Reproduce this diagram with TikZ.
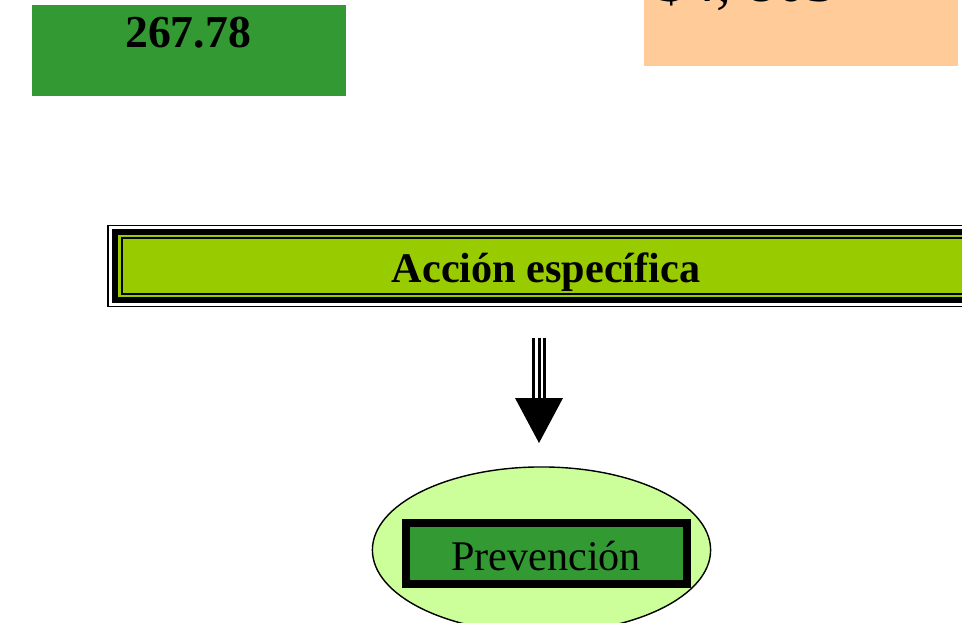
\documentclass[tikz,border=0pt]{standalone}
\usepackage{fontspec}
\setmainfont{Liberation Serif}
\usetikzlibrary{shapes.geometric}
\definecolor{verde}{HTML}{339933}
\definecolor{lima}{HTML}{99CC00}
\definecolor{palido}{HTML}{CCFF99}
\definecolor{durazno}{HTML}{FFCC99}
\tikzset{>=latex}

\begin{document}
\begin{tikzpicture}[x=.01cm, y=-.01cm,
    capa/.style={rectangle, inner sep=0, outer sep=0},
    texto/.style={font=\fontsize{12}{14}\selectfont, inner sep=0}]
    \useasboundingbox(0, 0)rectangle(962, 622);
    \clip(0, 0)rectangle(962, 622);
    % cajas de arriba
    \fill[verde](32, 5)rectangle(346, 96);
    \node[texto, font=\fontsize{13}{15}\selectfont\bfseries](monto)at(188, 33){267.78};
    \fill[durazno](644, -20)rectangle(958, 66);
    \node[texto, font=\fontsize{17}{20}\selectfont, anchor=base west](saldo)at(656, 1.5){\$4, 803};
    % accion especifica, marco triple
    \node[capa, draw, fill=white, line width=.45pt, minimum width=8.76cm, minimum height=.81cm](accion)at(546, 266){};
    \node[capa, fill=black, minimum width=8.68cm, minimum height=.74cm]at(accion.center){};
    \node[capa, fill=lima, minimum width=8.56cm, minimum height=.62cm]at(accion.center){};
    \node[capa, draw, fill=lima, line width=.6pt, minimum width=8.48cm, minimum height=.555cm]at(accion.center){};
    \node[texto, font=\fontsize{12}{14}\selectfont\bfseries, anchor=base]at(546, 283){Acción específica};
    % prevencion
    \node[ellipse, draw, fill=palido, line width=.4pt, minimum width=3.38cm, minimum height=1.66cm](elipse)at(541.5, 550){};
    \node[capa, draw, fill=verde, line width=.08cm, minimum width=2.81cm, minimum height=.6cm](prev)at(546.5, 553.5){};
    \node[texto, anchor=base]at(546, 570){Prevención};
    % flecha
    \coordinate(ini)at(539, 338);
    \coordinate(base)at(539, 398);
    \coordinate(punta)at(539, 443);
    \foreach \d in {-5.5, 0, 5.5}
        \draw[line width=.03cm]([xshift=\d*.01cm]ini)--([xshift=\d*.01cm]base);
    \fill([xshift=-.24cm]base)--([xshift=.24cm]base)--(punta)--cycle;
\end{tikzpicture}
\end{document}
